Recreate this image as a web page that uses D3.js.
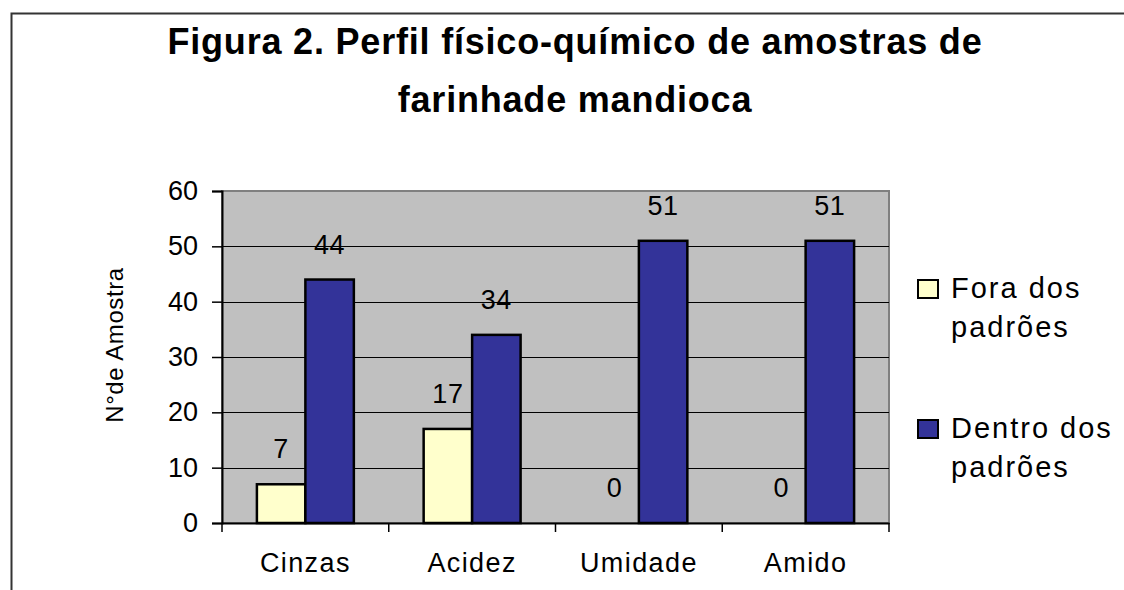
<!DOCTYPE html>
<html>
<head>
<meta charset="utf-8">
<script src="https://cdn.jsdelivr.net/npm/d3@7"></script>
<style>
  body { margin: 0; background: #fff; }
  svg { display: block; font-family: "Liberation Sans", Arial, sans-serif; }
</style>
</head>
<body>
<div id="chart"></div>
<script>
const categories = ['Cinzas', 'Acidez', 'Umidade', 'Amido'];
const seriesNames = ['Fora dos padrões', 'Dentro dos padrões'];
const foraValues = [7, 17, 0, 0];
const dentroValues = [44, 34, 51, 51];
const yTicks = [0, 10, 20, 30, 40, 50, 60];
const colors = ['#ffffcc', '#333399'];

const W = 1124, H = 590;
const plot = { left: 222, right: 889, top: 191, bottom: 523 };

const svg = d3.select('#chart').append('svg')
    .attr('width', W)
    .attr('height', H);

// outer frame (only top and left visible in the crop)
svg.append('path')
    .attr('d', `M11.5,${H} L11.5,13.5 L${W},13.5`)
    .attr('fill', 'none')
    .attr('stroke', '#333')
    .attr('stroke-width', 2);

// Title
const title = svg.append('text')
    .attr('text-anchor', 'middle')
    .attr('font-weight', 'bold')
    .attr('font-size', 36)
    .attr('letter-spacing', 0.8);
title.append('tspan').attr('x', 575).attr('y', 54).text('Figura 2. Perfil físico-químico de amostras de');
title.append('tspan').attr('x', 575).attr('y', 112).text('farinhade mandioca');

const data = categories.map((c, i) => ({ cat: c, values: [foraValues[i], dentroValues[i]] }));

const x = d3.scaleBand()
    .domain(categories)
    .range([plot.left, plot.right])
    .paddingInner(0)
    .paddingOuter(0);

const xs = d3.scaleBand()
    .domain([0, 1])
    .range([0, x.bandwidth()])
    .paddingInner(0)
    .paddingOuter(0.72);

const y = d3.scaleLinear()
    .domain([0, 60])
    .range([plot.bottom, plot.top]);

// Plot background
svg.append('rect')
    .attr('x', plot.left)
    .attr('y', plot.top)
    .attr('width', plot.right - plot.left)
    .attr('height', plot.bottom - plot.top)
    .attr('fill', '#c0c0c0')
    .attr('stroke', '#808080')
    .attr('stroke-width', 2);

// Gridlines
svg.append('g')
    .selectAll('line')
    .data(yTicks.filter(d => d > 0 && d < 60))
    .join('line')
    .attr('x1', plot.left)
    .attr('x2', plot.right)
    .attr('y1', d => Math.round(y(d)) + 0.5)
    .attr('y2', d => Math.round(y(d)) + 0.5)
    .attr('stroke', '#000')
    .attr('stroke-width', 1);

// Bars
const groups = svg.append('g')
    .selectAll('g')
    .data(data)
    .join('g')
    .attr('transform', d => `translate(${x(d.cat)},0)`);

groups.selectAll('rect')
    .data(d => d.values.map((v, i) => ({ v, i })))
    .join('rect')
    .attr('x', d => xs(d.i))
    .attr('y', d => y(d.v))
    .attr('width', xs.bandwidth())
    .attr('height', d => y(0) - y(d.v))
    .attr('fill', d => colors[d.i])
    .attr('stroke', '#000')
    .attr('stroke-width', 2.5)
    .attr('display', d => d.v === 0 ? 'none' : null);

// Data labels
groups.selectAll('text')
    .data(d => d.values.map((v, i) => ({ v, i })))
    .join('text')
    .attr('x', d => xs(d.i) + xs.bandwidth() / 2)
    .attr('y', d => y(d.v) - 26)
    .attr('text-anchor', 'middle')
    .attr('font-size', 27)
    .attr('letter-spacing', 0.5)
    .attr('fill', '#000')
    .text(d => d.v);

// Y axis
const yAxis = svg.append('g')
    .attr('transform', `translate(${plot.left},0)`)
    .call(d3.axisLeft(y).tickValues(yTicks).tickSize(10).tickPadding(14));
yAxis.select('.domain').attr('stroke', '#000').attr('stroke-width', 2);
yAxis.selectAll('.tick line').attr('stroke', '#000').attr('stroke-width', 1.5);
yAxis.selectAll('.tick text')
    .attr('font-size', 27)
    .attr('font-family', '"Liberation Sans", Arial, sans-serif')
    .attr('fill', '#000');

// X axis
const xAxis = svg.append('g')
    .attr('transform', `translate(0,${plot.bottom})`)
    .call(d3.axisBottom(x).tickSize(0).tickPadding(30));
xAxis.select('.domain').attr('stroke', '#000').attr('stroke-width', 2);
xAxis.selectAll('.tick text')
    .attr('font-size', 27)
    .attr('letter-spacing', 1.4)
    .attr('font-family', '"Liberation Sans", Arial, sans-serif')
    .attr('fill', '#000');
// category boundary ticks
xAxis.append('g')
    .selectAll('line')
    .data(categories.map(c => x(c)).concat([x.range()[1]]))
    .join('line')
    .attr('x1', d => d)
    .attr('x2', d => d)
    .attr('y1', 0)
    .attr('y2', 9)
    .attr('stroke', '#000')
    .attr('stroke-width', 1.5);

// Y axis title
svg.append('text')
    .attr('transform', `translate(123,345) rotate(-90)`)
    .attr('text-anchor', 'middle')
    .attr('font-size', 24)
    .attr('letter-spacing', 0.6)
    .text('N°de Amostra');

// Legend
const legendItems = [
    { name: seriesNames[0], color: colors[0], y: 280, lines: ['Fora dos', 'padrões'] },
    { name: seriesNames[1], color: colors[1], y: 420, lines: ['Dentro dos', 'padrões'] }
];
const legend = svg.append('g').selectAll('g')
    .data(legendItems)
    .join('g');
legend.append('rect')
    .attr('x', 918)
    .attr('y', d => d.y)
    .attr('width', 20)
    .attr('height', 18)
    .attr('fill', d => d.color)
    .attr('stroke', '#000')
    .attr('stroke-width', 2);
legend.append('text')
    .attr('font-size', 29)
    .attr('letter-spacing', 2)
    .selectAll('tspan')
    .data(d => d.lines.map((l, i) => ({ l, i, y: d.y })))
    .join('tspan')
    .attr('x', 951)
    .attr('y', d => d.y + 18 + d.i * 39)
    .text(d => d.l);
</script>
</body>
</html>
